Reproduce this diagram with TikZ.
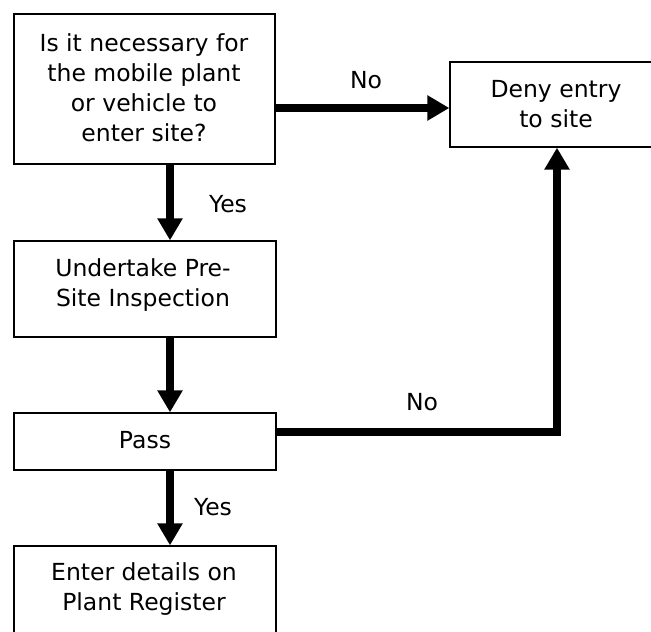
\documentclass[tikz,border=0pt]{standalone}
\usepackage{fontspec}
\setmainfont{DejaVu Sans}
\usetikzlibrary{arrows.meta,calc}
\begin{document}
\begin{tikzpicture}[x=1pt,y=-1pt,
  boxnode/.style={draw=black,line width=1.3pt,inner sep=0pt,fill=white},
  txt/.style={font=\fontsize{23.5}{30}\selectfont,align=center,inner sep=0pt},
  lbl/.style={font=\fontsize{23.5}{30}\selectfont,inner sep=0pt},
  flow/.style={line width=8pt,-{Triangle[width=24pt,length=22pt]},line join=miter}]
\useasboundingbox (0,0) rectangle (651,632);
\clip (0,0) rectangle (651,632);
% boxes
\node[boxnode,minimum width=261pt,minimum height=150pt] (q) at (144.5,89) {};
\node[boxnode,minimum width=262pt,minimum height=96pt] (ins) at (145,289) {};
\node[boxnode,minimum width=262pt,minimum height=57pt] (pass) at (145,441.5) {};
\node[boxnode,minimum width=262pt,minimum height=100pt] (reg) at (145,596) {};
\node[boxnode,minimum width=212pt,minimum height=85pt] (deny) at (556,104.5) {};
% texts
\node[txt] (tq) at (144,88) {Is it necessary for\\the mobile plant\\or vehicle to\\enter site?};
\node[txt] (tins) at (143,285) {Undertake Pre-\\Site Inspection};
\node[txt] (tpass) at (145,440) {Pass};
\node[txt] (treg) at (144,589) {Enter details on\\Plant Register};
\node[txt] (tdeny) at (556,104) {Deny entry\\to site};
% connector coordinates
\coordinate (cx) at (170,0);
\coordinate (noy) at (0,108);
\coordinate (ry) at (0,432);
\coordinate (rx) at (557,0);
% connectors
\draw[flow] (q.south -| cx) -- (ins.north -| cx);
\draw[flow] (ins.south -| cx) -- (pass.north -| cx);
\draw[flow] (pass.south -| cx) -- (reg.north -| cx);
\draw[flow] (q.east |- noy) -- (deny.west |- noy);
\draw[flow] (pass.east |- ry) -- (rx |- ry) -- (rx |- deny.south);
% labels
\node[lbl] (yes1) at (228,204) {Yes};
\node[lbl] (yes2) at (213,507) {Yes};
\node[lbl] (no1) at (366,80) {No};
\node[lbl] (no2) at (422,402) {No};
\end{tikzpicture}
\end{document}
